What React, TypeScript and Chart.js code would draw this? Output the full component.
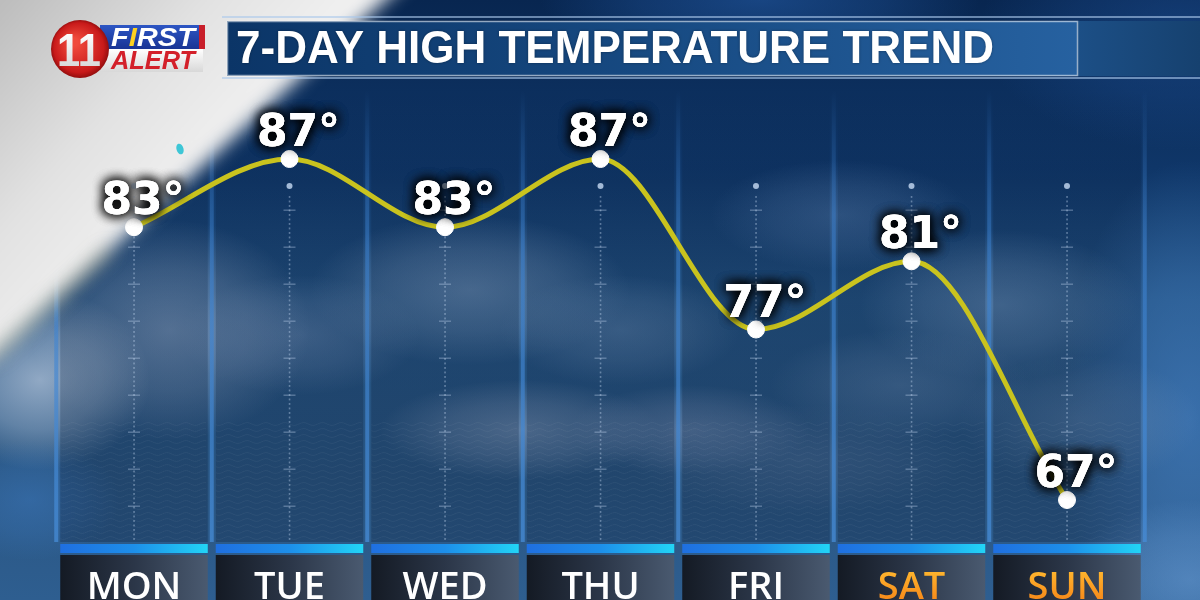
import React, { useEffect, useRef } from "react";
import { Chart, registerables } from "chart.js";

Chart.register(...registerables);

// ---- data ----
const days: string[] = ["MON", "TUE", "WED", "THU", "FRI", "SAT", "SUN"];
const highs: number[] = [83, 87, 83, 87, 77, 81, 67];
const weekendDays: string[] = ["SAT", "SUN"];
const titleText = "7-DAY HIGH TEMPERATURE TREND";
const logoTop = "FIRST";
const logoBottom = "ALERT";
const logoNumber = "11";
const yMin = 64;
const yMax = 90;

function blob(ctx: CanvasRenderingContext2D, cx: number, cy: number, rx: number, ry: number, rgb: string, a: number) {
  ctx.save();
  ctx.translate(cx, cy);
  ctx.scale(1, ry / rx);
  const g = ctx.createRadialGradient(0, 0, 0, 0, 0, rx);
  g.addColorStop(0, `rgba(${rgb},${a})`);
  g.addColorStop(0.55, `rgba(${rgb},${a * 0.55})`);
  g.addColorStop(1, `rgba(${rgb},0)`);
  ctx.fillStyle = g;
  ctx.beginPath();
  ctx.arc(0, 0, rx, 0, Math.PI * 2);
  ctx.fill();
  ctx.restore();
}

function drawSky(ctx: CanvasRenderingContext2D) {
  const g = ctx.createLinearGradient(0, 0, 0, 600);
  g.addColorStop(0, "#082650");
  g.addColorStop(0.28, "#0f3668");
  g.addColorStop(0.5, "#22507f");
  g.addColorStop(0.8, "#2a5682");
  g.addColorStop(1, "#2e5e90");
  ctx.fillStyle = g;
  ctx.fillRect(0, 0, 1200, 600);
  blob(ctx, 760, 0, 220, 60, "40,100,180", 0.5);
  blob(ctx, 1180, 30, 200, 120, "30,80,150", 0.5);
  blob(ctx, 1190, 420, 130, 260, "70,130,200", 0.6);
  blob(ctx, 1190, 580, 120, 80, "110,160,215", 0.5);
  blob(ctx, 470, 290, 160, 75, "130,160,195", 0.55);
  blob(ctx, 300, 335, 120, 60, "120,150,190", 0.45);
  blob(ctx, 170, 330, 140, 110, "160,180, 210", 0.55);
  blob(ctx, 40, 380, 110, 90, "190,205,225", 0.7);
  blob(ctx, 620, 330, 120, 55, "110,145,185", 0.45);
  blob(ctx, 520, 430, 140, 50, "150,170,200", 0.5);
  blob(ctx, 690, 430, 120, 45, "140,160,195", 0.45);
  blob(ctx, 840, 215, 130, 55, "90,130,180", 0.45);
  blob(ctx, 1000, 305, 140, 75, "120,155,195", 0.5);
  blob(ctx, 900, 385, 130, 55, "110,145,185", 0.4);
  blob(ctx, 800, 460, 170, 55, "100,130,170", 0.35);
  blob(ctx, 1080, 420, 120, 65, "110,145,185", 0.4);
  blob(ctx, 30, 500, 90, 60, "60,120,190", 0.5);
}

function drawWhiteSwoosh(ctx: CanvasRenderingContext2D) {
  ctx.save();
  ctx.filter = "blur(9px)";
  const wg = ctx.createLinearGradient(0, 0, 260, 230);
  wg.addColorStop(0, "#bcbcbc");
  wg.addColorStop(0.45, "#e2e2e2");
  wg.addColorStop(1, "#fbfbfb");
  ctx.fillStyle = wg;
  ctx.beginPath();
  ctx.moveTo(-40, -40);
  ctx.lineTo(429, -40);
  ctx.lineTo(0, 350);
  ctx.lineTo(-40, 386);
  ctx.closePath();
  ctx.fill();
  ctx.strokeStyle = "rgba(170,160,100,0.55)";
  ctx.lineWidth = 6;
  ctx.beginPath();
  ctx.moveTo(110, 250);
  ctx.lineTo(-10, 360);
  ctx.stroke();
  ctx.restore();
  ctx.save();
  ctx.fillStyle = "#3ec6d6";
  ctx.beginPath();
  ctx.ellipse(180, 149, 3.5, 5.5, -0.3, 0, Math.PI * 2);
  ctx.fill();
  ctx.restore();
}

function drawColumns(ctx: CanvasRenderingContext2D, centers: number[], pitch: number) {
  const half = pitch / 2 - 4;
  centers.forEach((cx) => {
    const g = ctx.createLinearGradient(0, 90, 0, 540);
    g.addColorStop(0, "rgba(5,20,45,0)");
    g.addColorStop(0.2, "rgba(5,20,45,0.16)");
    g.addColorStop(1, "rgba(10,25,50,0.28)");
    ctx.fillStyle = g;
    ctx.fillRect(cx - half, 90, half * 2, 452);
    ctx.save();
    ctx.beginPath();
    ctx.rect(cx - half, 420, half * 2, 122);
    ctx.clip();
    ctx.strokeStyle = "rgba(255,255,255,0.05)";
    ctx.lineWidth = 1;
    for (let y = 424; y < 545; y += 6) {
      ctx.beginPath();
      for (let x = cx - half; x <= cx + half; x += 2) {
        const yy = y + Math.sin((x - cx) / 3) * 1.4;
        if (x === cx - half) ctx.moveTo(x, yy);
        else ctx.lineTo(x, yy);
      }
      ctx.stroke();
    }
    ctx.restore();
  });
  for (let i = 0; i <= centers.length; i++) {
    const gx = centers[0] - pitch / 2 + i * pitch;
    const g = ctx.createLinearGradient(0, 90, 0, 540);
    g.addColorStop(0, "rgba(60,130,210,0)");
    g.addColorStop(0.35, "rgba(60,130,210,0.55)");
    g.addColorStop(1, "rgba(70,140,215,0.75)");
    ctx.fillStyle = g;
    ctx.fillRect(gx - 2, 90, 4, 452);
  }
}

function drawGuides(ctx: CanvasRenderingContext2D, centers: number[]) {
  centers.forEach((cx) => {
    ctx.fillStyle = "rgba(200,220,245,0.8)";
    ctx.beginPath();
    ctx.arc(cx, 186, 3, 0, Math.PI * 2);
    ctx.fill();
    ctx.fillStyle = "rgba(200,220,245,0.4)";
    for (let y = 196; y < 540; y += 4.5) {
      ctx.fillRect(cx - 0.75, y, 1.6, 1.9);
    }
    ctx.fillStyle = "rgba(200,220,245,0.35)";
    for (let y = 210; y < 540; y += 37) {
      ctx.fillRect(cx - 6, y - 0.5, 12, 1.4);
    }
  });
}

function drawBottom(ctx: CanvasRenderingContext2D, centers: number[], pitch: number, labels: string[]) {
  const half = pitch / 2 - 4;
  centers.forEach((cx, i) => {
    const bg = ctx.createLinearGradient(cx - half, 0, cx + half, 0);
    bg.addColorStop(0, "#1f6fe0");
    bg.addColorStop(0.5, "#1d8fea");
    bg.addColorStop(1, "#22d4f6");
    ctx.fillStyle = bg;
    ctx.fillRect(cx - half, 544, half * 2, 9);
    const pg = ctx.createLinearGradient(cx - half, 0, cx + half, 0);
    pg.addColorStop(0, "#141a24");
    pg.addColorStop(0.5, "#2b3648");
    pg.addColorStop(1, "#4a5a70");
    ctx.fillStyle = pg;
    ctx.fillRect(cx - half, 555, half * 2, 45);
    const lab = labels[i];
    ctx.font = "600 38px 'Open Sans'";
    ctx.textAlign = "center";
    ctx.textBaseline = "alphabetic";
    if (weekendDays.includes(lab)) {
      const tg = ctx.createLinearGradient(0, 570, 0, 600);
      tg.addColorStop(0, "#ffb62e");
      tg.addColorStop(1, "#f68a1a");
      ctx.fillStyle = tg;
    } else {
      ctx.fillStyle = "#ffffff";
    }
    ctx.fillText(lab, cx, 599);
  });
}

function drawTitle(ctx: CanvasRenderingContext2D) {
  ctx.fillStyle = "rgba(170,200,235,0.6)";
  ctx.fillRect(222, 16, 978, 2);
  ctx.fillRect(222, 77, 978, 2);
  const g = ctx.createLinearGradient(227, 0, 1077, 0);
  g.addColorStop(0, "#0b3567");
  g.addColorStop(0.5, "#174a82");
  g.addColorStop(1, "#2661a0");
  ctx.fillStyle = g;
  ctx.fillRect(227, 21, 850, 55);
  const g2 = ctx.createLinearGradient(1077, 0, 1200, 0);
  g2.addColorStop(0, "#1c4f86");
  g2.addColorStop(1, "#16416f");
  ctx.fillStyle = g2;
  ctx.fillRect(1077, 21, 123, 55);
  ctx.strokeStyle = "rgba(255,255,255,0.55)";
  ctx.lineWidth = 1.5;
  ctx.strokeRect(227.5, 21.5, 850, 54);
  ctx.save();
  ctx.font = "bold 46px 'Liberation Sans'";
  const w = ctx.measureText(titleText).width;
  ctx.translate(236, 63);
  ctx.scale(758 / w, 1);
  ctx.fillStyle = "#ffffff";
  ctx.textAlign = "left";
  ctx.textBaseline = "alphabetic";
  ctx.shadowColor = "rgba(0,0,0,0.35)";
  ctx.shadowBlur = 3;
  ctx.fillText(titleText, 0, 0);
  ctx.restore();
}

function drawLogo(ctx: CanvasRenderingContext2D) {
  const tg = ctx.createLinearGradient(0, 25, 0, 48);
  tg.addColorStop(0, "#2d56c4");
  tg.addColorStop(1, "#1a3596");
  ctx.fillStyle = tg;
  ctx.fillRect(100, 25, 105, 24);
  ctx.fillStyle = "#c81e2a";
  ctx.fillRect(199, 25, 6, 24);
  const bg = ctx.createLinearGradient(0, 49, 0, 72);
  bg.addColorStop(0, "#ffffff");
  bg.addColorStop(1, "#d8d8d8");
  ctx.fillStyle = bg;
  ctx.fillRect(100, 49, 103, 23);
  ctx.save();
  ctx.font = "italic bold 25px 'Liberation Sans'";
  ctx.textAlign = "left";
  ctx.textBaseline = "alphabetic";
  const fw = ctx.measureText(logoTop).width;
  ctx.translate(111, 46);
  ctx.scale(84 / fw, 1);
  ctx.fillStyle = "#ffffff";
  ctx.fillText(logoTop[0], 0, 0);
  const w0 = ctx.measureText(logoTop[0]).width;
  ctx.fillStyle = "#ffd21f";
  ctx.fillText(logoTop[1], w0, 0);
  const w1 = ctx.measureText(logoTop.slice(0, 2)).width;
  ctx.fillStyle = "#ffffff";
  ctx.fillText(logoTop.slice(2), w1, 0);
  ctx.restore();
  ctx.save();
  ctx.font = "italic bold 25px 'Liberation Sans'";
  ctx.textAlign = "left";
  ctx.textBaseline = "alphabetic";
  const aw = ctx.measureText(logoBottom).width;
  ctx.translate(111, 69);
  ctx.scale(84 / aw, 1);
  ctx.fillStyle = "#d3202a";
  ctx.fillText(logoBottom, 0, 0);
  ctx.restore();
  const rg = ctx.createRadialGradient(74, 42, 4, 80, 49, 30);
  rg.addColorStop(0, "#f04a3c");
  rg.addColorStop(0.8, "#c81a1a");
  rg.addColorStop(1, "#8a0c0c");
  ctx.fillStyle = rg;
  ctx.beginPath();
  ctx.arc(80, 49, 29, 0, Math.PI * 2);
  ctx.fill();
  ctx.save();
  ctx.beginPath();
  ctx.arc(80, 49, 27, 0, Math.PI * 2);
  ctx.clip();
  ctx.font = "bold 46px 'Liberation Sans'";
  ctx.textAlign = "center";
  ctx.textBaseline = "alphabetic";
  const nw = ctx.measureText(logoNumber).width;
  ctx.translate(79, 66);
  ctx.scale(44 / nw, 1);
  const wg = ctx.createLinearGradient(0, -34, 0, 0);
  wg.addColorStop(0, "#ffffff");
  wg.addColorStop(1, "#dadada");
  ctx.fillStyle = wg;
  ctx.fillText(logoNumber, 0, 0);
  ctx.restore();
}

const backdropPlugin = {
  id: "backdrop",
  beforeDraw(chart: any) {
    const ctx: CanvasRenderingContext2D = chart.ctx;
    const xs = chart.scales.x;
    const centers = days.map((_, i) => xs.getPixelForValue(i));
    const pitch = centers[1] - centers[0];
    ctx.save();
    drawSky(ctx);
    drawColumns(ctx, centers, pitch);
    drawWhiteSwoosh(ctx);
    drawGuides(ctx, centers);
    drawBottom(ctx, centers, pitch, days);
    drawTitle(ctx);
    drawLogo(ctx);
    ctx.restore();
  },
  afterDatasetsDraw(chart: any) {
    const ctx: CanvasRenderingContext2D = chart.ctx;
    const meta = chart.getDatasetMeta(0);
    ctx.save();
    ctx.font = "bold 44px 'DejaVu Sans'";
    ctx.textAlign = "center";
    ctx.textBaseline = "alphabetic";
    meta.data.forEach((pt: any, i: number) => {
      const txt = `${highs[i]}°`;
      const x = pt.x + 9;
      const y = pt.y - 13;
      ctx.fillStyle = "#ffffff";
      ctx.shadowColor = "rgba(0,0,0,0.95)";
      ctx.shadowBlur = 12;
      for (let k = 0; k < 3; k++) ctx.fillText(txt, x, y);
      ctx.shadowBlur = 0;
      ctx.fillText(txt, x, y);
    });
    ctx.restore();
  },
};

export default function App() {
  const ref = useRef<HTMLCanvasElement | null>(null);
  useEffect(() => {
    if (!ref.current) return;
    const chart = new Chart(ref.current, {
      type: "line",
      data: {
        labels: days,
        datasets: [
          {
            data: highs,
            borderColor: "#c9c31e",
            borderWidth: 5,
            cubicInterpolationMode: "monotone",
            pointRadius: 8.5,
            pointBackgroundColor: "#ffffff",
            pointBorderColor: "#ffffff",
            pointBorderWidth: 1,
            fill: false,
            clip: false as any,
          },
        ],
      },
      options: {
        responsive: false,
        animation: false,
        devicePixelRatio: 1,
        layout: { padding: { left: 56.25, right: 55.25, top: 107.85, bottom: 48.85 } },
        plugins: {
          legend: { display: false },
          tooltip: { enabled: false },
          title: { display: false },
        },
        scales: {
          x: { display: false, offset: true },
          y: { display: false, min: yMin, max: yMax },
        },
      },
      plugins: [backdropPlugin],
    });
    return () => chart.destroy();
  }, []);
  return (
    <div style={{ position: "fixed", left: 0, top: 0, width: 1200, height: 600, overflow: "hidden" }}>
      <canvas ref={ref} width={1200} height={600} style={{ display: "block", width: 1200, height: 600 }} />
    </div>
  );
}
